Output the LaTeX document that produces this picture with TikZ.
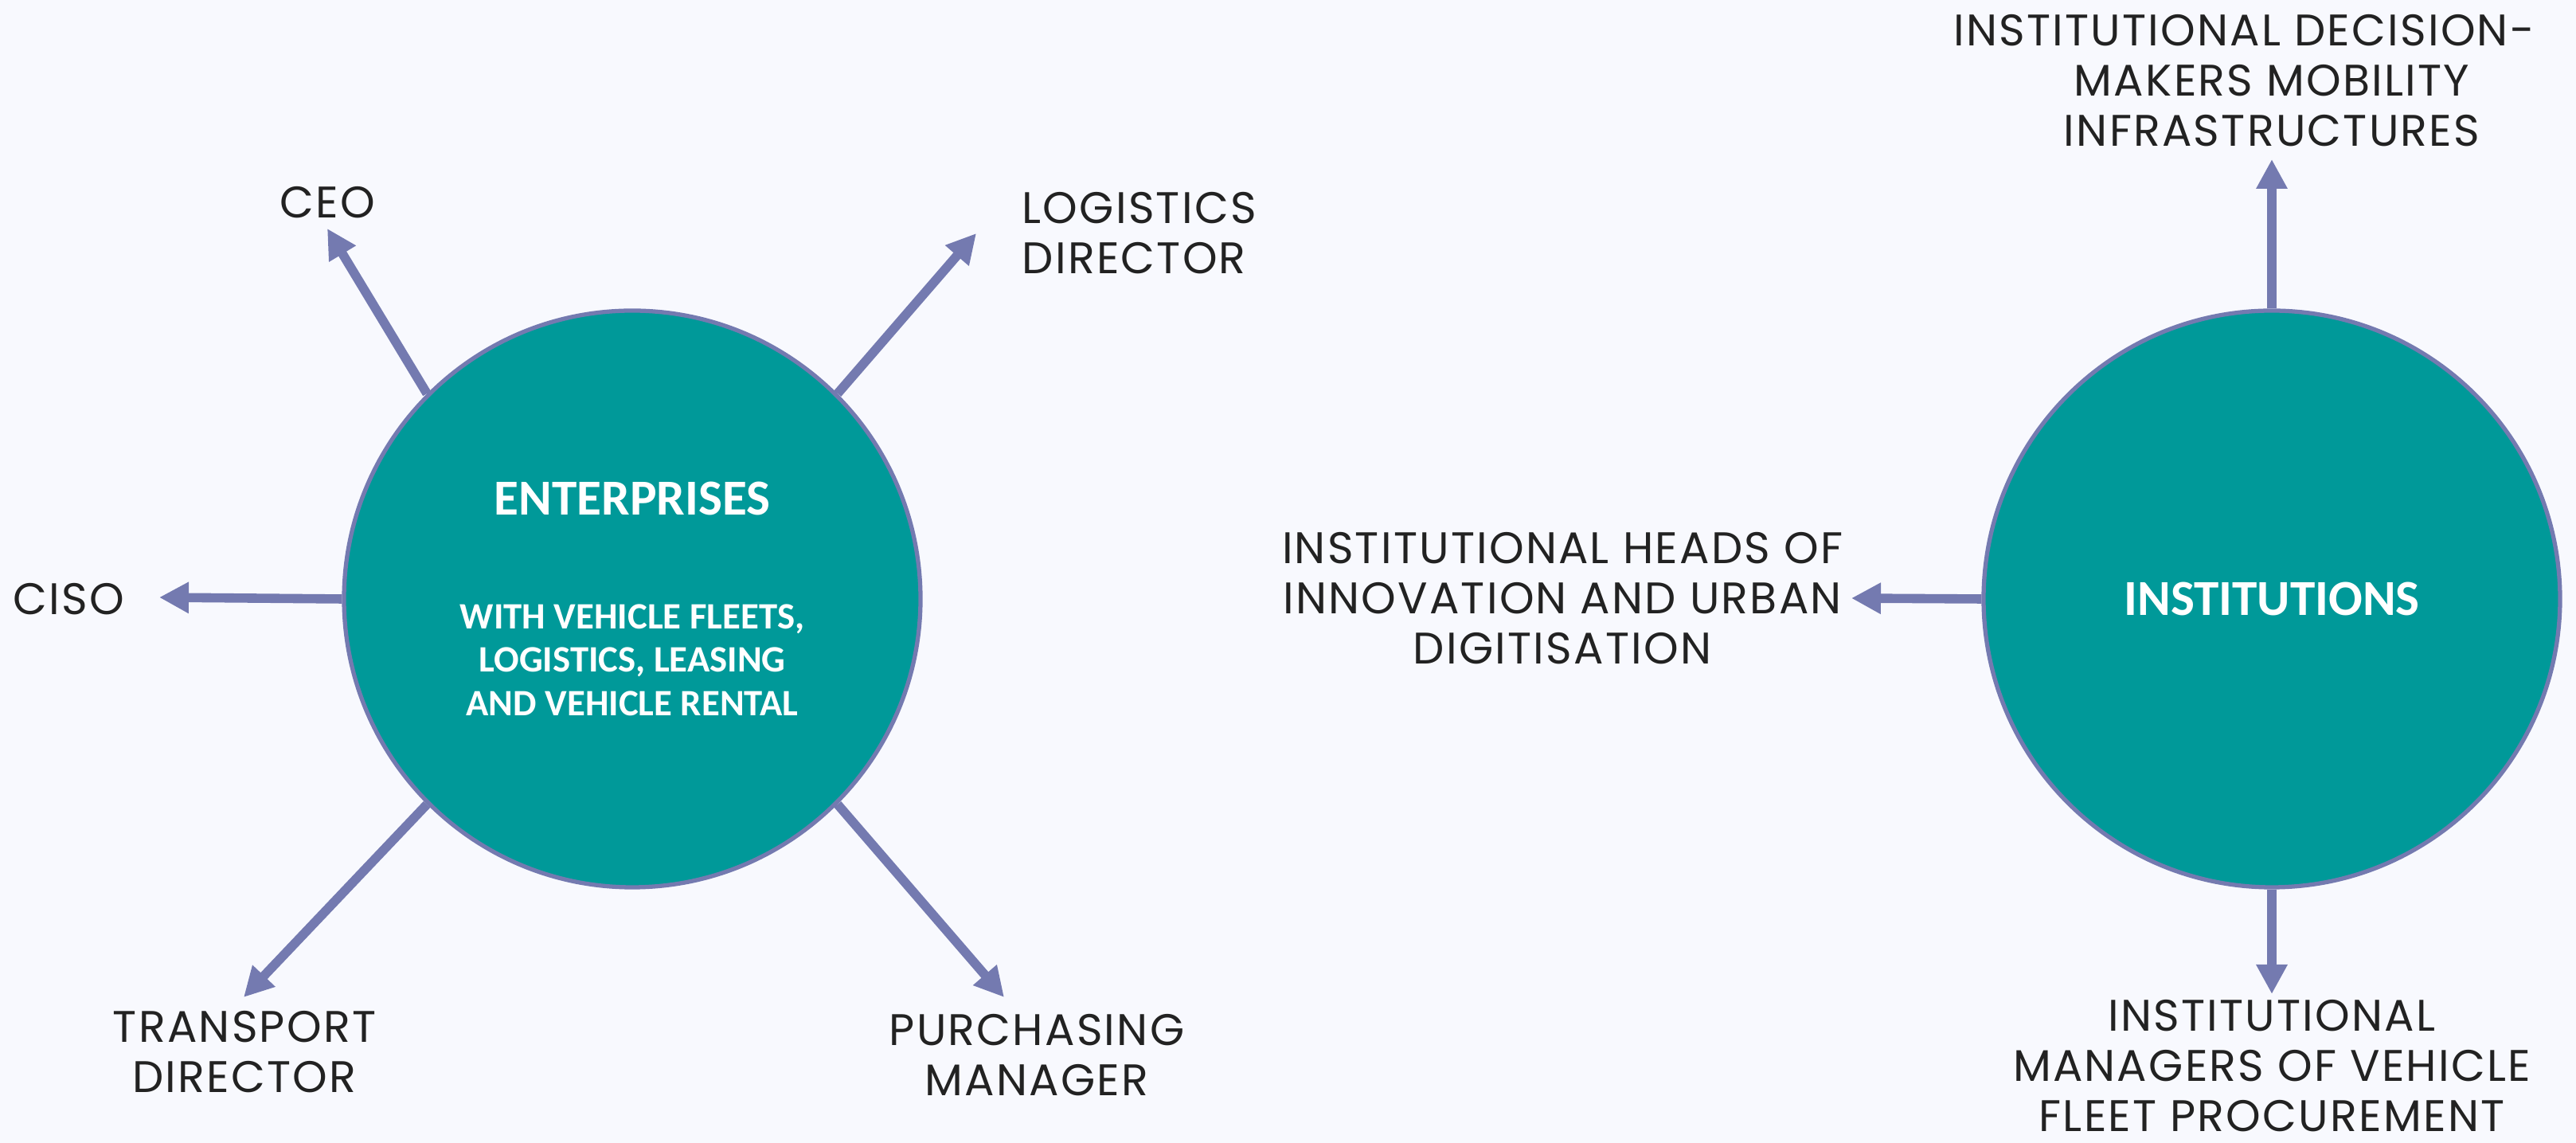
\documentclass[tikz,border=0pt]{standalone}
\usepackage{fontspec}
\setmainfont[LetterSpace=4]{Poppins}
\newfontfamily\calibri{Carlito}
\usetikzlibrary{arrows.meta}

\definecolor{bgcol}{HTML}{F8F9FE}
\definecolor{hubfill}{HTML}{009999}
\definecolor{linkcol}{HTML}{747AB0}
\definecolor{labelcol}{HTML}{222222}

\tikzset{
	hub/.style={circle, draw=linkcol, line width=1.5pt, fill=hubfill, minimum size=7.24cm, inner sep=0pt, text=white, align=center, font=\calibri\bfseries\fontsize{13.3}{15.6}\selectfont},
	link/.style={draw=linkcol, line width=3.3pt, -{Triangle[length=0.37cm,width=0.37cm]}},
	lbl/.style={text=labelcol, align=center, inner sep=0pt, font=\fontsize{15.8}{17.9}\selectfont}
}

\begin{document}
\begin{tikzpicture}
	\fill[bgcol] (0,0) rectangle (32.35,14.35);
	\useasboundingbox (0,0) rectangle (32.35,14.35);

\node[hub] (ent) at (7.94,6.83) {{\fontsize{18}{20}\selectfont ENTERPRISES}\\[25pt]WITH VEHICLE FLEETS,\\LOGISTICS, LEASING\\AND VEHICLE RENTAL};
\node[hub, font=\calibri\bfseries\fontsize{18}{20}\selectfont] (inst) at (28.53,6.83) {INSTITUTIONS};

\node[lbl] (ceo) at (4.11,11.81) {CEO};
\node[lbl, align=left, anchor=west] (logdir) at (12.83,11.42) {LOGISTICS\\DIRECTOR};
\node[lbl] (ciso) at (0.86,6.83) {CISO};
\node[lbl] (trdir) at (3.07,1.14) {TRANSPORT\\DIRECTOR};
\node[lbl] (purch) at (13.02,1.10) {PURCHASING\\MANAGER};

\node[lbl] (decmak) at (28.53,13.34) {INSTITUTIONAL DECISION-\hspace*{0.7cm}\\MAKERS MOBILITY\\INFRASTRUCTURES};
\node[lbl] (innov) at (19.62,6.84) {INSTITUTIONAL HEADS OF\\INNOVATION AND URBAN\\DIGITISATION};
\node[lbl] (fleet) at (28.53,0.97) {INSTITUTIONAL\\MANAGERS OF VEHICLE\\FLEET PROCUREMENT};

% arrow ends
\coordinate (ceo tip) at (4.11,11.48);
\coordinate (logdir tip) at (12.26,11.42);
\coordinate (ciso tip) at (2.00,6.85);
\coordinate (trdir tip) at (3.06,1.83);
\coordinate (purch tip) at (12.61,1.83);
\coordinate (decmak tip) at (28.53,12.35);
\coordinate (innov tip) at (23.25,6.84);
\coordinate (fleet tip) at (28.53,1.87);

\draw[link] (ent.135) -- (ceo tip);
\draw[link] (ent.45) -- (logdir tip);
\draw[link] (ent.west) -- (ciso tip);
\draw[link] (ent.225) -- (trdir tip);
\draw[link] (ent.315) -- (purch tip);

\draw[link] (inst.north) -- (decmak tip);
\draw[link] (inst.west) -- (innov tip);
\draw[link] (inst.south) -- (fleet tip);

\end{tikzpicture}
\end{document}
